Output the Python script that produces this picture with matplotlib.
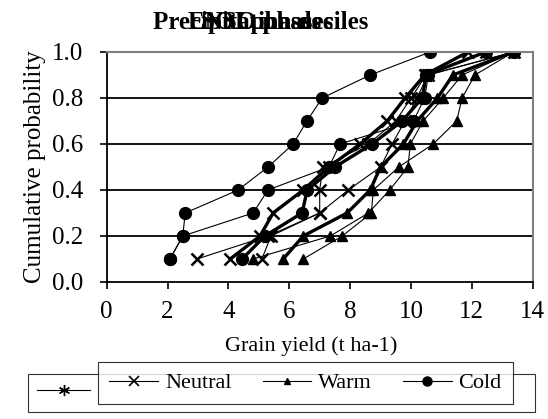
import matplotlib
matplotlib.use("Agg")
import matplotlib.pyplot as plt
from matplotlib.lines import Line2D

plt.rcParams['font.family'] = ['Liberation Serif', 'DejaVu Serif']

# cumulative probability levels
prob = [0.1, 0.2, 0.3, 0.4, 0.5, 0.6, 0.7, 0.8, 0.9, 1.0]

# grain yield (t/ha) for each phase, three classifications each
neutral_a = [2.97, 5.30, 7.00, 7.00, 7.10, 8.60, 9.50, 10.00, 10.50, 12.45]
neutral_b = [4.06, 5.04, 5.47, 6.46, 7.30, 8.33, 9.22, 9.81, 10.45, 11.87]
neutral_c = [5.10, 5.40, 7.00, 7.94, 9.00, 9.38, 9.80, 10.20, 10.55, 13.37]

warm_a = [4.81, 7.35, 8.60, 9.30, 9.90, 9.98, 10.40, 11.06, 11.68, 13.37]
warm_b = [5.80, 6.46, 7.90, 8.66, 9.00, 9.75, 10.20, 10.87, 11.38, 13.37]
warm_c = [6.46, 7.74, 8.70, 8.76, 9.60, 10.73, 11.50, 11.68, 12.10, 13.37]

cold_a = [2.08, 2.50, 4.81, 5.30, 7.30, 7.67, 10.08, 10.45, 10.57, 13.37]
cold_b = [2.08, 2.50, 2.58, 4.32, 5.30, 6.13, 6.58, 7.08, 8.66, 10.63]
cold_c = [4.45, 5.20, 6.42, 6.59, 7.50, 8.72, 9.71, 10.37, 10.50, 12.45]

titles = ["Precipitation deciles", "SOI phases", "ENSO phases"]

fig = plt.figure(figsize=(5.48, 4.19), dpi=100)
ax = fig.add_axes([0.1947, 0.327, 0.7774, 0.5489])

thin = dict(color='black', lw=0.8)
thick = dict(color='black', lw=2.4)

ax.plot(neutral_a, prob, marker='x', ms=9, mew=1.8, **thin)
ax.plot(neutral_b, prob, marker='x', ms=9, mew=1.8, **thick)
ax.plot(neutral_c, prob, marker='x', ms=9, mew=1.8, **thin)

ax.plot(warm_a, prob, marker='^', ms=6.5, **thin)
ax.plot(warm_b, prob, marker='^', ms=6.5, **thick)
ax.plot(warm_c, prob, marker='^', ms=6.5, **thin)

ax.plot(cold_a, prob, marker='o', ms=8.5, **thin)
ax.plot(cold_b, prob, marker='o', ms=8.5, **thin)
ax.plot(cold_c, prob, marker='o', ms=8.5, **thick)

ax.set_xlim(0, 14)
ax.set_ylim(0, 1.0)
ax.set_xticks(range(0, 15, 2))
ax.set_yticks([0.0, 0.2, 0.4, 0.6, 0.8, 1.0])
ax.set_yticklabels(["0.0", "0.2", "0.4", "0.6", "0.8", "1.0"])
ax.tick_params(direction='out', length=5, width=1.2, labelsize=18)
ax.tick_params(axis='y', pad=12)
ax.tick_params(axis='x', pad=9)

for y in [0.2, 0.4, 0.6, 0.8]:
    ax.axhline(y, color='black', lw=1.3, zorder=0)

ax.spines['left'].set_linewidth(1.3)
ax.spines['bottom'].set_linewidth(1.3)
for side in ['top', 'right']:
    ax.spines[side].set_color('#808080')
    ax.spines[side].set_linewidth(1.5)

ax.set_xlabel("Grain yield (t ha-1)", fontsize=16)
ax.xaxis.set_label_coords((311 - 106.7) / 426, -0.235)
ax.set_ylabel("Cumulative probability", fontsize=18, labelpad=4)

# overlapping chart titles
for t in titles:
    fig.text(261 / 548, 1 - 22 / 419, t, ha='center', va='center',
             fontsize=18, fontweight='bold')

# legend left behind from the other chart
back = fig.legend(handles=[Line2D([], [], color='black', lw=0.8, marker=(6, 2, 0),
                                  ms=8, mew=1.0)],
                  labels=[""], loc='lower left', mode='expand',
                  bbox_to_anchor=(0.0511, 0.0167, 0.925, 0.0955),
                  frameon=True, fancybox=False, edgecolor='black',
                  handlelength=2.4, borderaxespad=0, fontsize=16)
back.get_frame().set_linewidth(0.8)

handles = [
    Line2D([], [], color='black', lw=0.8, marker='x', ms=7, mew=1.2),
    Line2D([], [], color='black', lw=0.8, marker='^', ms=5),
    Line2D([], [], color='black', lw=0.8, marker='o', ms=6.5),
]
front = fig.legend(handles=handles, labels=["Neutral", "Warm", "Cold"],
                   loc='center', bbox_to_anchor=(0.5575, 0.0859), ncol=3,
                   frameon=True, fancybox=False, edgecolor='black',
                   handlelength=2.2, handletextpad=0.3, columnspacing=1.4,
                   fontsize=16, borderpad=0.5)
front.get_frame().set_linewidth(0.8)
front.set_zorder(10)

fig.savefig("out.png", dpi=100)
